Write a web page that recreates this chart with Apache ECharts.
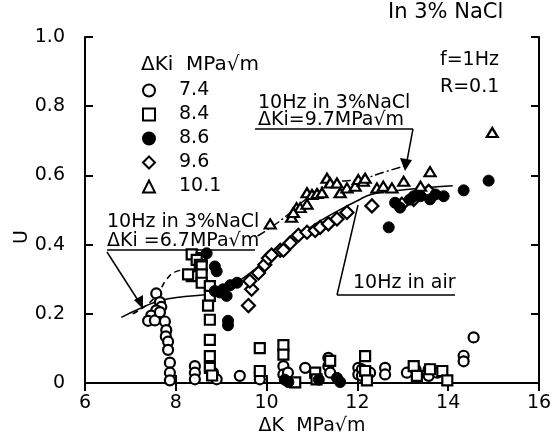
<!DOCTYPE html>
<html>
<head>
<meta charset="utf-8">
<script src="https://cdn.jsdelivr.net/npm/echarts@6/dist/echarts.min.js"></script>
<style>html,body{margin:0;padding:0;background:#fff}#c{width:559px;height:441px}</style>
</head>
<body>
<div id="c"></div>
<script>
const xTicks = [6, 8, 10, 12, 14, 16];
const yTicks = [0, 0.2, 0.4, 0.6, 0.8, 1.0];
const seriesNames = ['7.4', '8.4', '8.6', '9.6', '10.1'];

const dKi74 = [
  [7.57,0.259],[7.65,0.234],[7.68,0.22],[7.57,0.21],[7.46,0.195],[7.39,0.18],[7.54,0.181],[7.65,0.205],
  [7.76,0.178],[7.79,0.153],[7.78,0.135],[7.83,0.12],[7.83,0.096],[7.87,0.059],[7.87,0.03],[7.87,0.008],
  [8.42,0.049],[8.42,0.03],[8.42,0.011],[8.82,0.03],[8.9,0.011],[9.41,0.021],[9.85,0.03],[9.85,0.011],
  [10.37,0.049],[10.37,0.025],[10.47,0.03],[10.85,0.044],[11.36,0.073],[11.36,0.049],[11.4,0.03],
  [12.02,0.044],[12.02,0.025],[12.1,0.04],[12.1,0.021],[12.28,0.03],[12.61,0.044],[12.61,0.025],
  [13.09,0.03],[13.28,0.04],[13.57,0.04],[13.57,0.021],[13.76,0.03],[14.34,0.079],[14.34,0.063],[14.56,0.132]
];
const dKi84 = [
  [8.35,0.372],[8.57,0.361],[8.46,0.356],[8.53,0.342],[8.57,0.337],[8.35,0.309],[8.27,0.314],[8.57,0.314],
  [8.57,0.29],[8.75,0.28],[8.75,0.252],[8.71,0.224],[8.75,0.183],[8.75,0.125],[8.75,0.078],[8.75,0.044],
  [8.8,0.022],[9.85,0.101],[9.85,0.035],[10.37,0.11],[10.37,0.082],[10.63,0.002],[11.07,0.03],[11.1,0.011],
  [11.4,0.064],[12.17,0.078],[12.17,0.035],[12.21,0.008],[13.24,0.049],[13.31,0.021],[13.6,0.04],
  [13.87,0.035],[13.98,0.008]
];
const dKi86 = [
  [8.68,0.375],[8.86,0.337],[8.9,0.323],[8.97,0.262],[8.86,0.266],[9.04,0.271],[9.12,0.252],[9.2,0.283],
  [9.35,0.29],[9.15,0.167],[9.15,0.18],[10.4,0.01],[10.48,0.003],[11.15,0.01],[11.55,0.015],[11.62,0.003],
  [12.69,0.45],[12.83,0.521],[12.94,0.507],[13.15,0.53],[13.24,0.54],[13.39,0.54],[13.6,0.531],
  [13.72,0.545],[13.9,0.54],[14.34,0.557],[14.89,0.585]
];
const dKi96 = [
  [9.6,0.224],[9.67,0.271],[9.63,0.295],[9.82,0.318],[9.96,0.342],[10.04,0.361],[10.11,0.37],[10.3,0.384],
  [10.37,0.384],[10.52,0.405],[10.7,0.427],[10.89,0.436],[11.07,0.441],[11.18,0.45],[11.36,0.46],
  [11.55,0.474],[11.77,0.493],[12.32,0.512],[12.98,0.517],[13.24,0.531],[13.57,0.554]
];
const dKi101 = [
  [10.08,0.46],[10.55,0.479],[10.66,0.507],[10.74,0.507],[10.59,0.493],[10.89,0.517],[10.89,0.55],
  [11.0,0.545],[11.11,0.548],[11.22,0.55],[11.33,0.592],[11.4,0.578],[11.55,0.578],[11.62,0.55],
  [11.77,0.564],[11.95,0.569],[12.02,0.588],[12.13,0.583],[12.17,0.592],[12.43,0.564],[12.57,0.569],
  [12.76,0.564],[13.02,0.583],[13.39,0.569],[13.6,0.611],[14.97,0.724]
];
const airCurve = [
  [6.8,0.19],[7.2,0.215],[7.65,0.238],[8.2,0.25],[8.8,0.258],[9.1,0.272],[9.5,0.305],[10.0,0.355],
  [10.5,0.405],[10.8,0.435],[11.2,0.47],[11.6,0.5],[12.0,0.527],[12.3,0.545],[12.8,0.555],[13.4,0.563],[14.1,0.57]
];
const nacl67Curve = [
  [7.05,0.2],[7.35,0.225],[7.6,0.258],[7.8,0.3],[8.0,0.322],[8.2,0.327]
];
const nacl97Curve = [
  [9.8,0.425],[10.15,0.455],[10.5,0.49],[10.9,0.535],[11.4,0.576],[12.1,0.59],[12.6,0.61],[13.05,0.628]
];

const F = 'DejaVu Sans';
const chart = echarts.init(document.getElementById('c'));
const axLine = {lineStyle: {color: '#000', width: 2}};
const tick = {inside: true, length: 8, lineStyle: {color: '#000', width: 2}};
const hollow = {color: '#fff', borderColor: '#000', borderWidth: 2.2, opacity: 1};
const filled = {color: '#000', borderColor: '#000', borderWidth: 1, opacity: 1};

function txt(x, y, s, size) {
  return {type: 'text', x: x, y: y, style: {text: s, font: size + 'px "' + F + '"', fill: '#000', textVerticalAlign: 'middle'}};
}
function ln(x1, y1, x2, y2, w) {
  return {type: 'line', shape: {x1: x1, y1: y1, x2: x2, y2: y2}, style: {stroke: '#000', lineWidth: w || 1.5}};
}

chart.setOption({
  animation: false,
  backgroundColor: '#fff',
  grid: {left: 85, right: 20, top: 37, bottom: 50},
  xAxis: [
    {type: 'value', min: xTicks[0], max: xTicks[xTicks.length - 1], interval: 2, axisLine: axLine, axisTick: tick,
     splitLine: {show: false},
     axisLabel: {margin: 10, color: '#000', fontFamily: F, fontSize: 19},
     name: 'ΔK  MPa√m', nameLocation: 'middle', nameGap: 28, nameTextStyle: {color: '#000', fontFamily: F, fontSize: 19}},
    {type: 'value', position: 'top', min: 6, max: 16, interval: 2, axisLine: axLine, axisTick: tick,
     axisLabel: {show: false}, splitLine: {show: false}}
  ],
  yAxis: [
    {type: 'value', min: yTicks[0], max: yTicks[yTicks.length - 1], interval: 0.2, axisLine: axLine, axisTick: tick, splitLine: {show: false},
     axisLabel: {margin: 20, color: '#000', fontFamily: F, fontSize: 19,
       formatter: v => v === 0 ? '0' : v.toFixed(1)}},
    {type: 'value', position: 'right', min: 0, max: 1, interval: 0.2, axisLine: axLine, axisTick: tick,
     axisLabel: {show: false}, splitLine: {show: false}}
  ],
  legend: {
    orient: 'vertical', left: 137, top: 76, itemWidth: 12, itemHeight: 12, itemGap: 5,
    data: seriesNames,
    textStyle: {color: '#000', fontFamily: F, fontSize: 19, lineHeight: 18, padding: [0, 0, 0, 19]}
  },
  series: [
    {type: 'line', data: airCurve, showSymbol: false, smooth: true, lineStyle: {color: '#000', width: 1.5}, z: 1, silent: true},
    {type: 'line', data: nacl67Curve, showSymbol: false, smooth: true, lineStyle: {color: '#000', width: 1.5, type: [6, 4]}, z: 1, silent: true},
    {type: 'line', data: nacl97Curve, showSymbol: false, smooth: true, lineStyle: {color: '#000', width: 1.5, type: [9, 3, 2, 3]}, z: 1, silent: true},
    {name: seriesNames[0], type: 'scatter', data: dKi74, symbol: 'circle', symbolSize: 10, itemStyle: hollow, z: 3},
    {name: seriesNames[1], type: 'scatter', data: dKi84, symbol: 'rect', symbolSize: 10, itemStyle: hollow, z: 3},
    {name: seriesNames[2], type: 'scatter', data: dKi86, symbol: 'circle', symbolSize: 11, itemStyle: filled, z: 4},
    {name: seriesNames[3], type: 'scatter', data: dKi96, symbol: 'diamond', symbolSize: 13, itemStyle: hollow, z: 3},
    {name: seriesNames[4], type: 'scatter', data: dKi101, symbol: 'triangle', symbolSize: [11, 9], itemStyle: hollow, z: 3}
  ],
  graphic: [
    txt(388, 13, 'In 3% NaCl', 21),
    txt(440, 60, 'f=1Hz', 19),
    txt(440, 87, 'R=0.1', 19),
    txt(141, 65, 'ΔKi  MPa√m', 20),
    txt(258, 103, '10Hz in 3%NaCl', 19),
    txt(258, 120, 'ΔKi=9.7MPa√m', 19),
    ln(255, 129, 413, 129),
    ln(413, 129, 406, 166),
    {type: 'polygon', shape: {points: [[400, 158], [412, 160], [405, 171]]}, style: {fill: '#000'}},
    txt(107, 222, '10Hz in 3%NaCl', 19),
    txt(107, 241, 'ΔKi =6.7MPa√m', 19),
    ln(107, 250, 255, 250),
    ln(107, 252, 141, 305),
    {type: 'polygon', shape: {points: [[134, 300], [143, 295], [143, 309]]}, style: {fill: '#000'}},
    txt(353, 283, '10Hz in air', 19),
    ln(337, 295, 455, 295),
    ln(337, 295, 358, 205),
    {type: 'text', x: 22, y: 237, rotation: Math.PI / 2,
     style: {text: 'U', font: '19px "' + F + '"', fill: '#000', textAlign: 'center', textVerticalAlign: 'middle'}}
  ]
});
</script>
</body>
</html>
